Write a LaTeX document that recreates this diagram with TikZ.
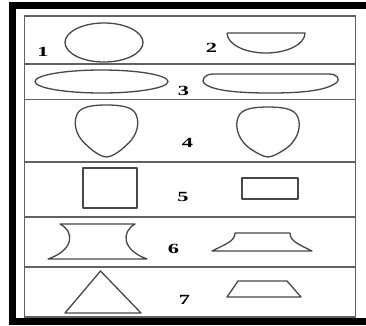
\documentclass[tikz,border=0pt]{standalone}
\usepackage{fontspec}
\setmainfont{Liberation Serif}
\begin{document}
\begin{tikzpicture}[x=1pt,y=-1pt,
  shp/.style={draw=black!72, line width=1.3pt, line join=round},
  grid/.style={draw=black!62, line width=1.4pt},
  lbl/.style={font=\fontsize{14}{14}\selectfont\bfseries, inner sep=0pt}]
\useasboundingbox (0,0) rectangle (366,325);
\fill[white] (0,0) rectangle (366,325);
% black frame
\fill[black] (9,2) rectangle (366,9);
\fill[black] (9,2) rectangle (16,325);
\fill[black] (9,318) rectangle (366,325);
% inner table
\draw[grid] (24.5,16) rectangle (355.5,317);
\foreach \yy in {64,99.5,162,217,267} \draw[grid] (24.5,\yy) -- (355.5,\yy);
% labels
\node[lbl] (l1) at (43,52) {\scalebox{1.6}[1]{1}};
\node[lbl] (l2) at (211.5,47.5) {\scalebox{1.6}[1]{2}};
\node[lbl] (l3) at (183.5,91) {\scalebox{1.6}[1]{3}};
\node[lbl] (l4) at (187.5,143) {\scalebox{1.6}[1]{4}};
\node[lbl] (l5) at (183,197) {\scalebox{1.6}[1]{5}};
\node[lbl] (l6) at (173.5,249) {\scalebox{1.6}[1]{6}};
\node[lbl] (l7) at (184.5,300) {\scalebox{1.6}[1]{7}};
% row 1
\draw[shp] (104,42.5) ellipse [x radius=39, y radius=19.5];
\draw[shp] (227,33) -- (305,33) arc[start angle=0, end angle=-180, x radius=39, y radius=-20];
% row 2
\draw[shp] (101.5,81.5) ellipse [x radius=66.5, y radius=11.5];
\draw[shp] (213,74) -- (329,74) .. controls (337,74) and (341,79) .. (336,83)
  .. controls (325,91) and (300,93) .. (270,93)
  .. controls (240,93) and (214,91) .. (205,84)
  .. controls (200,80) and (205,74) .. (213,74) -- cycle;
% row 3
\foreach \c/\t/\b in {106.5/105/157, 268/107/157}{
  \draw[shp] (\c,\t) .. controls (\c+15,\t) and (\c+24,\t+2) .. (\c+28,\t+7)
    .. controls (\c+34,\t+15) and (\c+32,\t+30) .. (\c+20,\t+40)
    .. controls (\c+12,\b-4) and (\c+4,\b) .. (\c,\b)
    .. controls (\c-4,\b) and (\c-12,\b-4) .. (\c-20,\t+40)
    .. controls (\c-32,\t+30) and (\c-34,\t+15) .. (\c-28,\t+7)
    .. controls (\c-24,\t+2) and (\c-15,\t) .. (\c,\t) -- cycle;
}
% row 4
\draw[shp] (83,168) rectangle (137,208);
\draw[shp] (242,178) rectangle (298,199);
% row 5
\draw[shp] (60,224) -- (135,224) .. controls (121,232) and (122,250) .. (147,259)
  -- (48,259) .. controls (74,250) and (75,232) .. (60,224) -- cycle;
\draw[shp] (235,233) -- (290,233) .. controls (290,241) and (298,244) .. (312,251)
  -- (212,251) .. controls (226,244) and (235,241) .. (235,233) -- cycle;
% row 6
\draw[shp] (100.5,271) -- (141,313) -- (65,313) -- cycle;
\draw[shp] (238,281) -- (287,281) -- (301,297) -- (227,297) -- cycle;
\end{tikzpicture}
\end{document}
